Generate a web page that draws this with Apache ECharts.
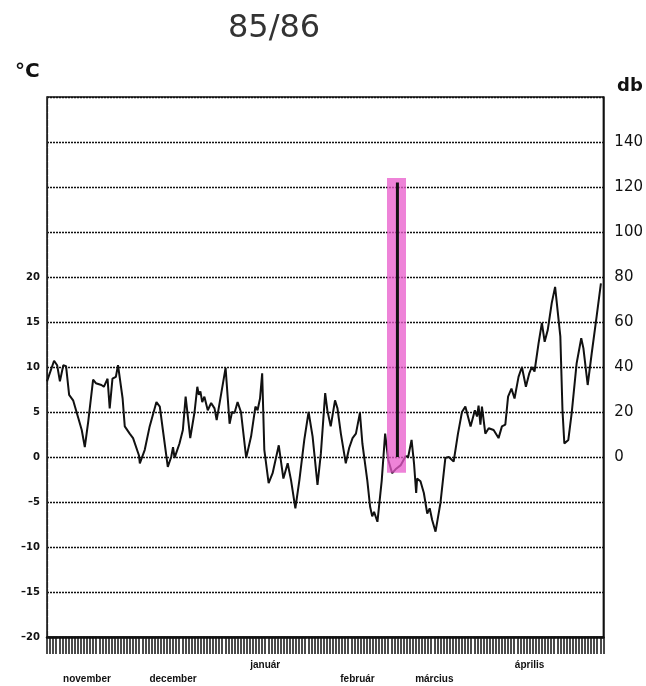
<!DOCTYPE html>
<html>
<head>
<meta charset="utf-8">
<script src="https://cdn.jsdelivr.net/npm/echarts@6/dist/echarts.min.js"></script>
<style>
html,body{margin:0;padding:0;background:#fff;}
#chart{width:646px;height:686px;}
</style>
</head>
<body>
<div id="chart"></div>
<script>
// day index from 1 November 1985 (0) to end of April 1986 (181)
const tempDays = [0,2.3,3.3,4.2,5.3,6.2,7.2,8.5,10.2,11.3,
11.8,12.3,13.4,15.0,15.9,17.7,18.5,19.7,20.4,21.3,
22.4,23.1,24.6,25.3,26.9,28.0,29.9,30.2,31.8,33.4,
35.6,36.7,37.7,39.3,40.4,41.0,41.5,43.1,44.2,45.1,
46.6,48.0,48.9,49.4,49.9,50.5,51.2,52.3,53.4,54.5,
55.2,56.7,58.1,59.4,60.2,61.0,62.0,63.1,64.8,66.4,
67.8,68.5,69.3,70.0,70.7,72.1,73.4,75.4,76.9,78.3,
79.4,80.8,82.1,83.7,85.1,86.4,88.0,89.1,90.5,91.2,
92.3,93.7,94.5,95.6,97.2,98.3,99.4,100.5,101.8,102.6,
104.2,105.1,105.8,106.4,107.5,108.9,110.0,111.0,112.3,113.6,
115.1,116.7,117.5,118.6,119.4,120.1,120.4,121.5,122.6,123.7,
124.5,125.3,126.4,128.0,129.6,130.7,132.3,133.7,135.0,136.1,
137.8,139.2,139.9,140.4,141.0,141.5,142.6,143.7,145.3,146.9,
148.0,149.1,150.0,151.1,152.1,153.4,154.5,155.8,156.9,157.7,
158.6,159.9,161.0,161.9,162.9,164.2,165.3,165.9,167.0,167.7,
168.3,169.6,170.7,172.3,173.8,174.5,175.9,177.2,178.8,180.2];

const tempValues = [8.4,10.7,10.2,8.4,10.2,10.1,6.9,6.3,4.3,3.0,
2.9,1.1,3.9,8.6,8.2,8.0,7.8,8.7,5.4,8.7,
8.9,10.2,6.5,3.4,2.6,2.1,0.2,-0.7,0.8,3.4,
6.1,5.6,3.0,-1.1,0.0,1.1,-0.1,1.5,3.0,6.7,
2.1,5.0,7.8,6.9,7.3,6.1,6.7,5.2,6.0,5.4,
4.1,7.1,9.9,3.7,5.0,4.9,6.1,5.0,-0.1,2.3,
5.6,5.2,6.5,9.3,0.8,-2.9,-1.8,1.3,-2.4,-0.7,
-2.6,-5.7,-2.6,1.9,5.0,2.3,-3.1,0.4,7.1,5.2,
3.4,6.3,5.4,2.6,-0.7,1.0,2.1,2.6,4.9,1.5,
-2.6,-5.5,-6.6,-6.1,-7.2,-2.6,2.6,-0.3,-1.8,-1.3,
-0.9,0.1,0.0,1.9,-0.7,-4.0,-2.4,-2.7,-4.0,-6.3,
-5.7,-7.0,-8.3,-5.1,-0.1,0.0,-0.5,2.6,5.0,5.6,
3.4,5.2,4.5,5.7,3.6,5.6,2.6,3.2,3.0,2.1,
3.4,3.6,6.7,7.6,6.5,8.9,10.0,7.8,9.3,10.0,
9.5,12.6,14.9,12.8,14.1,17.1,18.9,18.8,13.4,5.2,
1.5,1.9,4.9,10.4,13.2,12.1,8.0,11.5,15.6,19.3];

// month labels (position in days, text, lower row?)
const monthDays   = [13, 41, 71, 101, 126, 157];
const monthNames  = ['november', 'december', 'január', 'február', 'március', 'április'];
const monthLower  = [true, true, false, true, true, false];

// noise event (db)
const noiseDay = 114;
const noiseDb = 122;
const highlightRange = [-7, 124];

const tempTicks = [-20, -15, -10, -5, 0, 5, 10, 15, 20];
const dbTicks = [0, 20, 40, 60, 80, 100, 120, 140];

const chart = echarts.init(document.getElementById('chart'), null, {renderer: 'canvas'});

const tempData = tempDays.map((d, i) => [d, tempValues[i]]);

const option = {
  animation: false,
  backgroundColor: '#ffffff',
  title: [
    {text: '85/86', left: 228, top: 13, padding: 0,
     textStyle: {fontSize: 32, fontWeight: 'normal', fontFamily: 'DejaVu Sans', color: '#333'}},
    {text: '°C', left: 15, top: 62, padding: 0,
     textStyle: {fontSize: 20, fontWeight: 'bold', fontFamily: 'DejaVu Sans', color: '#111'}},
    {text: 'db', left: 617, top: 77, padding: 0,
     textStyle: {fontSize: 18, fontWeight: 'bold', fontFamily: 'DejaVu Sans', color: '#111'}}
  ],
  grid: {left: 47, right: 42, top: 97, bottom: 49, show: true, borderColor: '#111', borderWidth: 1.5, backgroundColor: 'transparent'},
  xAxis: {
    type: 'value', min: 0, max: 181, interval: 1,
    axisLine: {show: true, onZero: false, lineStyle: {color: '#111', width: 2.5}},
    axisTick: {show: true, length: 17, lineStyle: {color: '#111', width: 1.5}},
    splitLine: {show: false},
    axisLabel: {
      margin: 21, lineHeight: 14, fontSize: 10, fontWeight: 'bold',
      fontFamily: 'Liberation Sans Narrow, Liberation Sans', color: '#111',
      formatter: function (v) {
        const i = monthDays.indexOf(v);
        if (i < 0) return '';
        return (monthLower[i] ? '\n' : '') + monthNames[i];
      }
    }
  },
  yAxis: [
    {
      type: 'value', min: -20, max: 40, interval: 5, position: 'left',
      axisLine: {show: true, lineStyle: {color: '#222', width: 1.2, type: [6, 1]}},
      axisTick: {show: false},
      axisLabel: {
        margin: 7, fontSize: 10, fontWeight: 'bold', fontFamily: 'DejaVu Sans', color: '#111',
        formatter: function (v) { return tempTicks.indexOf(v) >= 0 ? String(v).replace('-', '–') : ''; }
      },
      splitLine: {show: true, lineStyle: {color: '#111', width: 1.4, type: [2, 1]}}
    },
    {
      type: 'value', min: -80, max: 160, interval: 20, position: 'right',
      axisLine: {show: true, lineStyle: {color: '#111', width: 1.5}},
      axisTick: {show: false},
      axisLabel: {
        margin: 11, fontSize: 15, fontFamily: 'DejaVu Sans', color: '#111',
        formatter: function (v) { return dbTicks.indexOf(v) >= 0 ? String(v) : ''; }
      },
      splitLine: {show: false}
    }
  ],
  series: [
    {
      type: 'line', yAxisIndex: 0, data: tempData, symbol: 'none', z: 3,
      lineStyle: {color: '#111', width: 2}
    },
    {
      type: 'line', yAxisIndex: 1, symbol: 'none', z: 4,
      data: [[noiseDay - 0.3, highlightRange[0]], [noiseDay - 0.3, highlightRange[1]]],
      lineStyle: {color: '#e85acb', width: 19, opacity: 0.75, cap: 'butt'}
    },
    {
      type: 'line', yAxisIndex: 1, symbol: 'none', z: 5,
      data: [[noiseDay, 0], [noiseDay, noiseDb]],
      lineStyle: {color: '#111', width: 3, cap: 'butt'}
    }
  ]
};
chart.setOption(option);
</script>
</body>
</html>
